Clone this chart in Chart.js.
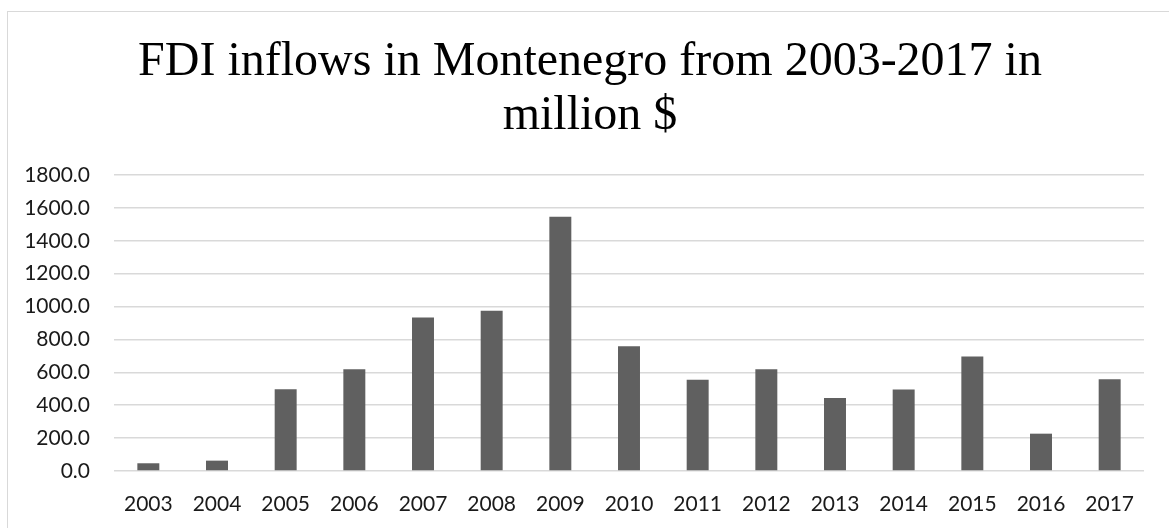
<!DOCTYPE html>
<html>
<head>
<meta charset="utf-8">
<script src="https://cdn.jsdelivr.net/npm/chart.js@4.4.1/dist/chart.umd.min.js"></script>
<style>
  html, body { margin: 0; padding: 0; background: #fff; overflow: hidden; }
  #wrap { position: relative; width: 1169px; height: 528px; }
  #frame { position: absolute; left: 7px; top: 11px; width: 1200px; height: 600px; border: 1px solid #d9d9d9; box-sizing: border-box; }
  canvas { position: absolute; left: 0; top: 0; }
</style>
</head>
<body>
<div id="wrap">
  <div id="frame"></div>
  <canvas id="fdiChart" width="1169" height="528"></canvas>
</div>
<script>
// years and FDI inflows (million $)
const years = ['2003', '2004', '2005', '2006', '2007', '2008', '2009', '2010',
               '2011', '2012', '2013', '2014', '2015', '2016', '2017'];
const inflows = [47, 63, 497, 618, 934, 975, 1546, 758, 555, 618, 444, 495, 697, 227, 558];
const titleLines = ['FDI inflows in Montenegro from 2003-2017 in', 'million $'];

// nudge the title block so its centre sits where the original one does
const titleShift = {
    id: 'titleShift',
    afterLayout(chart) {
        if (chart.titleBlock) chart.titleBlock.left += 36;
    }
};

const ctx = document.getElementById('fdiChart').getContext('2d');
const fdiChart = new Chart(ctx, {
    type: 'bar',
    data: {
        labels: years,
        datasets: [{
            label: 'FDI inflows',
            data: inflows,
            backgroundColor: '#606060',
            borderWidth: 0,
            categoryPercentage: 1,
            barPercentage: 0.32
        }]
    },
    plugins: [titleShift],
    options: {
        responsive: false,
        animation: false,
        layout: { padding: { top: 0, right: 25, bottom: 0, left: 0 } },
        plugins: {
            legend: { display: false },
            tooltip: { enabled: false },
            title: {
                display: true,
                text: titleLines,
                color: '#000',
                font: { family: '"Liberation Serif", "Times New Roman", serif', size: 48, weight: 'normal', lineHeight: 1.125 },
                padding: { top: 35, bottom: 32 }
            }
        },
        scales: {
            x: {
                grid: { display: false },
                border: { display: false },
                ticks: {
                    color: '#1a1a1a',
                    font: { family: 'Lato, "Open Sans", sans-serif', size: 21 },
                    padding: 13,
                    maxRotation: 0
                },
                afterFit: scale => { scale.height = 57; }
            },
            y: {
                min: 0,
                max: 1800,
                grid: { color: '#d9d9d9', lineWidth: 1.5, drawTicks: false },
                border: { display: false },
                ticks: {
                    stepSize: 200,
                    color: '#1a1a1a',
                    font: { family: 'Lato, "Open Sans", sans-serif', size: 21 },
                    padding: 24,
                    callback: v => Number(v).toFixed(1)
                },
                afterFit: scale => { scale.width = 114; }
            }
        }
    }
});
</script>
</body>
</html>
